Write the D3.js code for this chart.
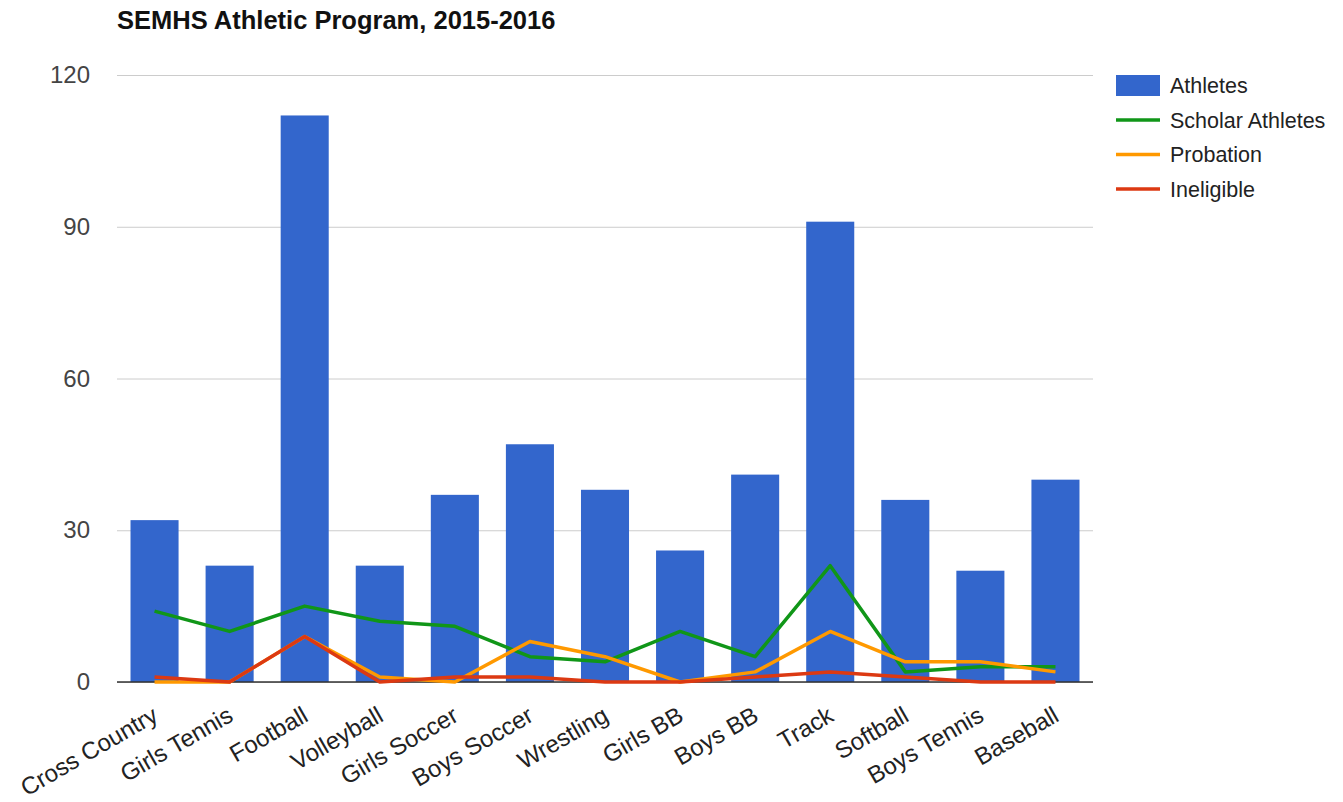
<!DOCTYPE html>
<html>
<head>
<meta charset="utf-8">
<script src="https://cdn.jsdelivr.net/npm/d3@7"></script>
<style>
  body { margin: 0; background: #fff; }
  svg { display: block; font-family: "Liberation Sans", Arial, sans-serif; }
</style>
</head>
<body>
<svg id="chart" width="1343" height="802"></svg>
<script>
// SEMHS athletic participation by sport, 2015-2016
const sports = ["Cross Country", "Girls Tennis", "Football", "Volleyball", "Girls Soccer",
  "Boys Soccer", "Wrestling", "Girls BB", "Boys BB", "Track", "Softball", "Boys Tennis", "Baseball"];
const athletes  = [32, 23, 112, 23, 37, 47, 38, 26, 41, 91, 36, 22, 40];
const scholars  = [14, 10, 15, 12, 11, 5, 4, 10, 5, 23, 2, 3, 3];
const probation = [0, 0, 9, 1, 0, 8, 5, 0, 2, 10, 4, 4, 2];
const ineligible = [1, 0, 9, 0, 1, 1, 0, 0, 1, 2, 1, 0, 0];
const yTicks = [0, 30, 60, 90, 120];

const lineSeries = [
  { name: "Scholar Athletes", values: scholars, color: "#109618" },
  { name: "Probation", values: probation, color: "#ff9900" },
  { name: "Ineligible", values: ineligible, color: "#dc3912" }
];
const barColor = "#3366cc";

const svg = d3.select("#chart");
const plotLeft = 117, plotRight = 1093, plotTop = 75, plotBottom = 682;

const x = d3.scaleBand().domain(sports).range([plotLeft, plotRight]).paddingInner(0.36).paddingOuter(0.18);
const y = d3.scaleLinear().domain([0, 120]).range([plotBottom, plotTop]);

// title
svg.append("text")
  .attr("x", plotLeft).attr("y", 29)
  .attr("font-size", 25.5).attr("font-weight", "bold").attr("fill", "#111")
  .text("SEMHS Athletic Program, 2015-2016");

// gridlines + y labels
const yAxis = d3.axisLeft(y).tickValues(yTicks).tickSize(-(plotRight - plotLeft)).tickPadding(27);
const gy = svg.append("g").attr("transform", `translate(${plotLeft},0)`).call(yAxis);
gy.select(".domain").remove();
gy.selectAll(".tick line").attr("stroke", "#cccccc");
gy.selectAll(".tick text").attr("font-size", 24).attr("fill", "#444").attr("font-family", "Liberation Sans, Arial, sans-serif");

// bars
svg.append("g").selectAll("rect").data(sports).join("rect")
  .attr("x", d => x(d))
  .attr("width", x.bandwidth())
  .attr("y", (d, i) => y(athletes[i]))
  .attr("height", (d, i) => y(0) - y(athletes[i]))
  .attr("fill", barColor);

// baseline
svg.append("line").attr("x1", plotLeft).attr("x2", plotRight).attr("y1", y(0)).attr("y2", y(0))
  .attr("stroke", "#333").attr("stroke-width", 1.5);

// lines
const line = d3.line()
  .x((d, i) => x(sports[i]) + x.bandwidth() / 2)
  .y(d => y(d));
svg.append("g").selectAll("path").data(lineSeries).join("path")
  .attr("d", s => line(s.values))
  .attr("fill", "none")
  .attr("stroke", s => s.color)
  .attr("stroke-width", 3.5)
  .attr("stroke-linejoin", "round");

// x labels
const xAxis = d3.axisBottom(x).tickSize(0).tickPadding(0);
const gx = svg.append("g").attr("transform", `translate(0,${plotBottom})`).call(xAxis);
gx.select(".domain").remove();
gx.selectAll(".tick text")
  .attr("font-size", 24).attr("fill", "#222").attr("font-family", "Liberation Sans, Arial, sans-serif")
  .attr("text-anchor", "end")
  .attr("transform", "translate(5,38) rotate(-30)")
  .attr("dy", 0).attr("y", 0);

// legend
const legend = svg.append("g").attr("transform", "translate(1116,85.5)");
const items = [{ name: "Athletes", color: barColor, bar: true }].concat(lineSeries);
const li = legend.selectAll("g").data(items).join("g")
  .attr("transform", (d, i) => `translate(0,${i * 34.5})`);
li.each(function (d) {
  const g = d3.select(this);
  if (d.bar) {
    g.append("rect").attr("x", 0).attr("y", -10.5).attr("width", 44).attr("height", 21).attr("fill", d.color);
  } else {
    g.append("line").attr("x1", 0).attr("x2", 44).attr("y1", 0).attr("y2", 0)
      .attr("stroke", d.color).attr("stroke-width", 3.5);
  }
  g.append("text").attr("x", 54).attr("y", 0).attr("dy", "0.35em")
    .attr("font-size", 21.5).attr("fill", "#222").text(d.name);
});
</script>
</body>
</html>
